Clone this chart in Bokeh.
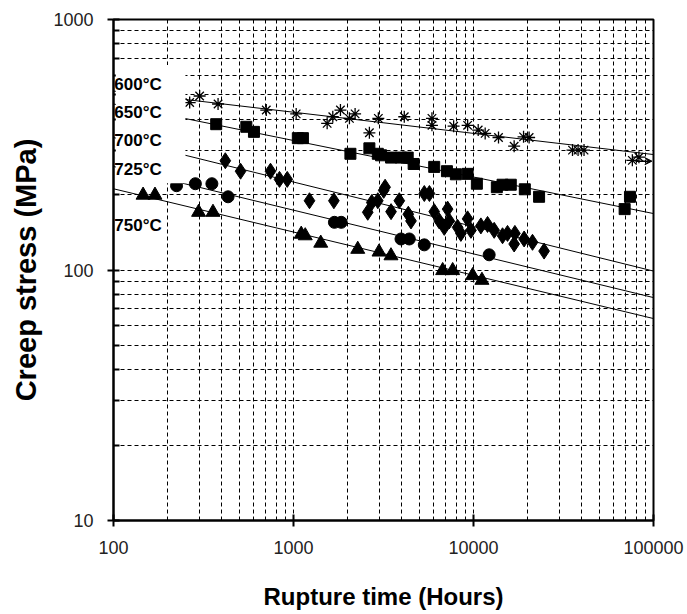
from bokeh.plotting import figure
from bokeh.models import Range1d, FixedTicker, BoxAnnotation, Label, Arrow, VeeHead
from bokeh.embed import file_html
from bokeh.resources import INLINE

# ---------------- data ----------------
temps = ["600°C", "650°C", "700°C", "725°C", "750°C"]

t600 = [265, 301, 381, 706, 1035, 1538, 1653, 1823, 2045, 2199, 2640, 2960, 4125, 5877, 5877,
        7755, 9274, 10620, 11610, 13770, 16820, 18970, 20370, 35480, 38100, 41120, 76300, 83000]
s600 = [466, 495, 460, 435, 420, 385, 409, 435, 403, 420, 353, 403, 409, 403, 378,
        375, 378, 362, 351, 338, 312, 340, 338, 301, 301, 301, 274, 282]

t650 = [372, 547, 603, 1057, 1128, 2071, 2640, 2940, 3065, 3483, 3955, 4310, 4650, 6050, 7120,
        7980, 9270, 10440, 13480, 14500, 16110, 19280, 23140, 69140, 74000]
s650 = [382, 373, 356, 336, 336, 291, 306, 291, 287, 281, 281, 281, 265, 258, 248,
        241, 242, 221, 214, 219, 219, 210, 196, 175, 196]

t700 = [418, 508, 745, 836, 923, 1227, 1676, 2585, 2722, 2940, 3170, 3228, 3483, 3871, 4343,
        4495, 5330, 5690, 6050, 6450, 7180, 7330, 6880, 8160, 9270, 8510, 9680, 10990, 11970,
        13030, 14500, 15450, 16980, 16820, 19110, 21270, 24670]
s700 = [273, 248, 248, 230, 230, 189, 189, 170, 186, 189, 208, 214, 171, 189, 167,
        157, 202, 202, 171, 157, 175, 157, 148, 148, 160, 140, 144, 150, 152,
        144, 137, 140, 140, 127, 133, 129, 119]

t725 = [224, 285, 352, 433, 1688, 1841, 3955, 4398, 5330, 12220]
s725 = [217, 221, 221, 196, 155, 155, 133, 133, 126, 115]

t750 = [146, 170, 297, 357, 1104, 1162, 1417, 2275, 2986, 3480, 6740, 7660, 9890, 11140]
s750 = [199, 199, 170, 170, 139, 137, 128, 121, 118, 114, 99.5, 99.5, 95, 91]

# fitted trend lines (time range and stress at each end)
fit_t = [100, 100000]
fit_s600 = [518, 289]
fit_s650 = [460, 168]
fit_s700 = [338, 99]
fit_s725 = [259, 77.6]
fit_s750 = [211, 64]

# run-out (unbroken) specimen at 600°C
runout_t = [80000, 98000]
runout_s = [272, 272]

x_ticks = [100, 1000, 10000, 100000]
x_tick_labels = ["100", "1000", "10000", "100000"]
y_ticks = [10, 100, 1000]
y_tick_labels = ["10", "100", "1000"]

# label positions (annotation layout)
label_x = 101
label_y = [549, 427, 328, 252, 151]

# ---------------- figure ----------------
p = figure(width=687, height=614, x_axis_type="log", y_axis_type="log",
           x_range=Range1d(100, 100000), y_range=Range1d(10, 1000),
           output_backend="svg", toolbar_location=None,
           min_border_left=113, min_border_right=34, min_border_top=19, min_border_bottom=94)
p.background_fill_color = "white"
p.border_fill_color = "white"
p.outline_line_color = "black"
p.outline_line_width = 2

x_minor = [m * d for d in [100, 1000, 10000] for m in range(2, 10)]
y_minor = [m * d for d in [10, 100] for m in range(2, 10)]
p.xaxis.ticker = FixedTicker(ticks=x_ticks, minor_ticks=x_minor)
p.yaxis.ticker = FixedTicker(ticks=y_ticks, minor_ticks=y_minor)
p.xaxis.major_label_overrides = {v: l for v, l in zip(x_ticks, x_tick_labels)}
p.yaxis.major_label_overrides = {v: l for v, l in zip(y_ticks, y_tick_labels)}

for ax in (p.xaxis, p.yaxis):
    ax.axis_line_width = 2
    ax.axis_line_color = "black"
    ax.major_tick_in = 6
    ax.major_tick_out = 6
    ax.major_tick_line_width = 2
    ax.major_tick_line_color = "black"
    ax.major_label_text_font = "Liberation Sans"
    ax.major_label_text_font_size = "18px"
    ax.major_label_text_color = "#222222"
    ax.axis_label_text_font = "Liberation Sans"
    ax.axis_label_text_font_style = "bold"
    ax.axis_label_text_color = "black"

p.xaxis.minor_tick_in = 0
p.xaxis.minor_tick_out = 0
p.yaxis.minor_tick_in = 6
p.yaxis.minor_tick_out = 0
p.yaxis.minor_tick_line_width = 2
p.yaxis.minor_tick_line_color = "black"
p.xaxis.major_label_standoff = 14
p.yaxis.major_label_standoff = 14

p.xaxis.axis_label = "Rupture time (Hours)"
p.xaxis.axis_label_text_font_size = "24px"
p.xaxis.axis_label_standoff = 26
p.yaxis.axis_label = "Creep stress (MPa)"
p.yaxis.axis_label_text_font_size = "29px"
p.yaxis.axis_label_standoff = 8

for g in (p.xgrid, p.ygrid):
    g.grid_line_color = "black"
    g.grid_line_dash = "4 3"
    g.grid_line_width = 1
    g.minor_grid_line_color = "black"
    g.minor_grid_line_dash = "4 3"
    g.minor_grid_line_width = 1

# trend lines
for fs in (fit_s600, fit_s650, fit_s700, fit_s725, fit_s750):
    p.line(fit_t, fs, line_color="black", line_width=1)

# data
p.scatter(t600, s600, marker="asterisk", size=12, line_color="black", line_width=1.3)
p.scatter(t650, s650, marker="square", size=11, fill_color="black", line_color="black")
p.scatter(t700, s700, marker="diamond", size=16, fill_color="black", line_color="black")
p.scatter(t725, s725, marker="circle", size=12, fill_color="black", line_color="black")
p.scatter(t750, s750, marker="triangle", size=14, fill_color="black", line_color="black")

p.add_layout(Arrow(end=VeeHead(size=7, fill_color="black", line_color="black"),
                   x_start=runout_t[0], y_start=runout_s[0],
                   x_end=runout_t[1], y_end=runout_s[1],
                   line_color="black", line_width=1.5))

# white label box
p.add_layout(BoxAnnotation(left=103, right=251, bottom=222, top=658,
                           fill_color="white", fill_alpha=1.0, line_alpha=0))

for name, ly in zip(temps, label_y):
    p.add_layout(Label(x=label_x, y=ly, text=name, text_font="Liberation Sans",
                       text_font_style="bold", text_font_size="17px",
                       text_baseline="middle", text_align="left", text_color="black"))

open("out.html", "w").write(file_html(p, INLINE))
